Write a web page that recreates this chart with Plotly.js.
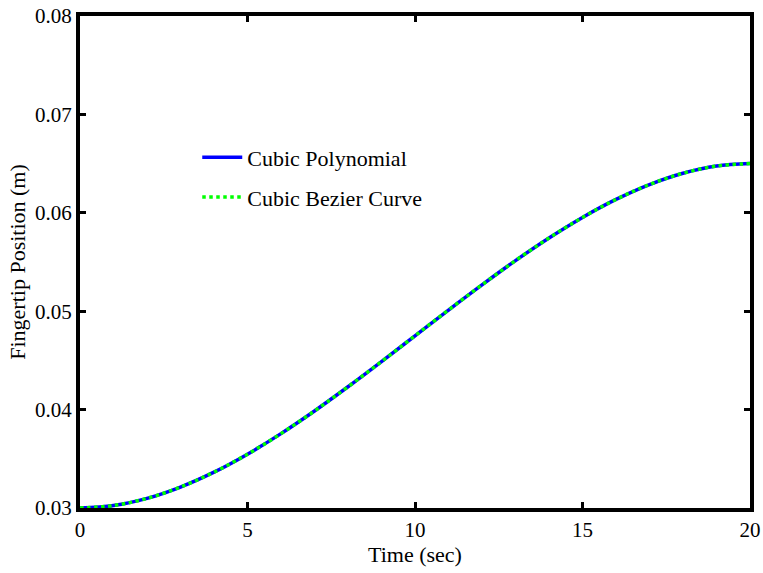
<!DOCTYPE html>
<html>
<head>
<meta charset="utf-8">
<script src="https://cdn.plot.ly/plotly-3.0.1.min.js"></script>
<style>
  html, body { margin: 0; padding: 0; background: #fff; }
  #chart { width: 763px; height: 573px; }
</style>
</head>
<body>
<div id="chart"></div>
<script>
// Fingertip trajectory over time (seconds -> metres)
const timeSec = [0, 1, 2, 3, 4, 5, 6, 7, 8, 9, 10, 11, 12, 13, 14, 15, 16, 17, 18, 19, 20];
const cubicPolynomial = [0.0300, 0.03025, 0.03098, 0.03213, 0.03364, 0.03547, 0.03756, 0.03986,
  0.04232, 0.04488, 0.04750, 0.05012, 0.05268, 0.05514, 0.05744, 0.05953, 0.06136, 0.06287,
  0.06402, 0.06475, 0.06500];
const cubicBezier = [0.0300, 0.03025, 0.03098, 0.03213, 0.03364, 0.03547, 0.03756, 0.03986,
  0.04232, 0.04488, 0.04750, 0.05012, 0.05268, 0.05514, 0.05744, 0.05953, 0.06136, 0.06287,
  0.06402, 0.06475, 0.06500];
const xTicks = [0, 5, 10, 15, 20];
const yTicks = [0.03, 0.04, 0.05, 0.06, 0.07, 0.08];

const font = "Liberation Serif, Times New Roman, serif";

const traces = [
  {
    x: timeSec, y: cubicPolynomial, name: "Cubic Polynomial", legendgroup: "poly",
    mode: "lines", line: { color: "#0000ff", width: 3.5, shape: "spline" }
  },
  {
    x: timeSec, y: cubicBezier, name: "Cubic Bezier Curve", legendgroup: "bezier",
    mode: "lines", line: { color: "#00ff00", width: 3.5, dash: "dot", shape: "spline" }
  }
];

const axisCommon = {
  showline: true, linecolor: "#000", linewidth: 4, mirror: "ticks",
  ticks: "inside", ticklen: 6, tickwidth: 3, tickcolor: "#000",
  showgrid: false, zeroline: false,
  tickfont: { family: font, size: 21, color: "#000" }
};

const layout = {
  width: 763, height: 573,
  margin: { l: 80, r: 13, t: 16, b: 65 },
  paper_bgcolor: "#fff", plot_bgcolor: "#fff",
  showlegend: true,
  legend: {
    x: 0.175, y: 0.755, xanchor: "left", yanchor: "top",
    bgcolor: "rgba(0,0,0,0)", borderwidth: 0,
    font: { family: font, size: 22, color: "#000" },
    itemwidth: 40,
    tracegroupgap: 8
  },
  xaxis: Object.assign({}, axisCommon, {
    range: [0, 20], tickvals: xTicks, ticktext: xTicks.map(String),
    title: { text: "Time (sec)", font: { family: font, size: 22, color: "#000" }, standoff: 2 }
  }),
  yaxis: Object.assign({}, axisCommon, {
    range: [0.03, 0.08], tickvals: yTicks, ticktext: yTicks.map(v => v.toFixed(2)),
    title: { text: "Fingertip Position (m)", font: { family: font, size: 22, color: "#000" }, standoff: 4 }
  })
};

Plotly.newPlot("chart", traces, layout, { staticPlot: true, displayModeBar: false });
</script>
</body>
</html>
